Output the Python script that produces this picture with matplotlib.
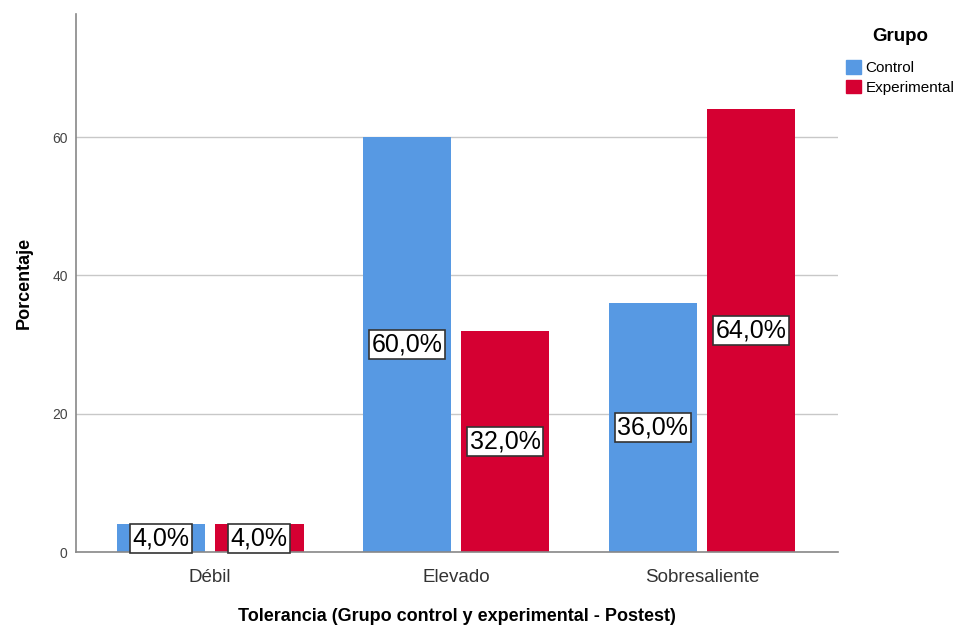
import numpy as np
import matplotlib
matplotlib.use('Agg')
import matplotlib.pyplot as plt
import matplotlib.patches as mpatches

plt.rcParams['font.family'] = ['Liberation Sans', 'DejaVu Sans']

categories = ['Débil', 'Elevado', 'Sobresaliente']
control = [4.0, 60.0, 36.0]
experimental = [4.0, 32.0, 64.0]
groups = ['Control', 'Experimental']
colours = ['#5799E3', '#D50032']

fig = plt.figure(figsize=(9.64, 6.26), dpi=100)
ax = fig.add_axes([76 / 964, 1 - 552 / 626, 762 / 964, 538 / 626])

x = np.arange(len(categories))
w = 0.36
for off, vals, colour in [(-0.2, control, colours[0]),
                          (0.2, experimental, colours[1])]:
    bars = ax.bar(x + off, vals, w, color=colour, zorder=2)
    for bar, v in zip(bars, vals):
        ax.text(bar.get_x() + bar.get_width() / 2, v / 2,
                f'{v:.1f}%'.replace('.', ','), ha='center', va='center',
                fontsize=18, color='black', zorder=3,
                bbox=dict(boxstyle='square,pad=0.1', fc='white',
                          ec='#333333', lw=1.2))

ax.set_xlim(-0.545, 2.553)
ax.set_ylim(0, 77.8)
ax.set_yticks([0, 20, 40, 60])
ax.grid(axis='y', color='#c8c8c8', lw=1, zorder=0)
ax.set_xticks(x)
ax.set_xticklabels(categories, fontsize=13.5, color='#333333')
ax.tick_params(axis='y', labelsize=10, colors='#444444', length=0, pad=6)
ax.tick_params(axis='x', length=0, pad=12)
for s in ['top', 'right']:
    ax.spines[s].set_visible(False)
for s in ['left', 'bottom']:
    ax.spines[s].set_color('#888888')
    ax.spines[s].set_linewidth(1.2)

ax.set_xlabel('Tolerancia (Grupo control y experimental - Postest)',
              fontsize=13, fontweight='bold', labelpad=16)
ax.set_ylabel('Porcentaje', fontsize=13, fontweight='bold', labelpad=14)

handles = [mpatches.Patch(color=c, label=g) for g, c in zip(groups, colours)]
leg = fig.legend(handles=handles, title='Grupo', loc='upper left',
                 bbox_to_anchor=(838 / 964, 1 - 20 / 626), frameon=False,
                 fontsize=11, title_fontproperties={'weight': 'bold', 'size': 13.5},
                 handlelength=1.0, handleheight=1.0, handletextpad=0.3,
                 labelspacing=0.3, borderpad=0)
leg._legend_box.sep = 11

fig.savefig('out.png', dpi=100)
